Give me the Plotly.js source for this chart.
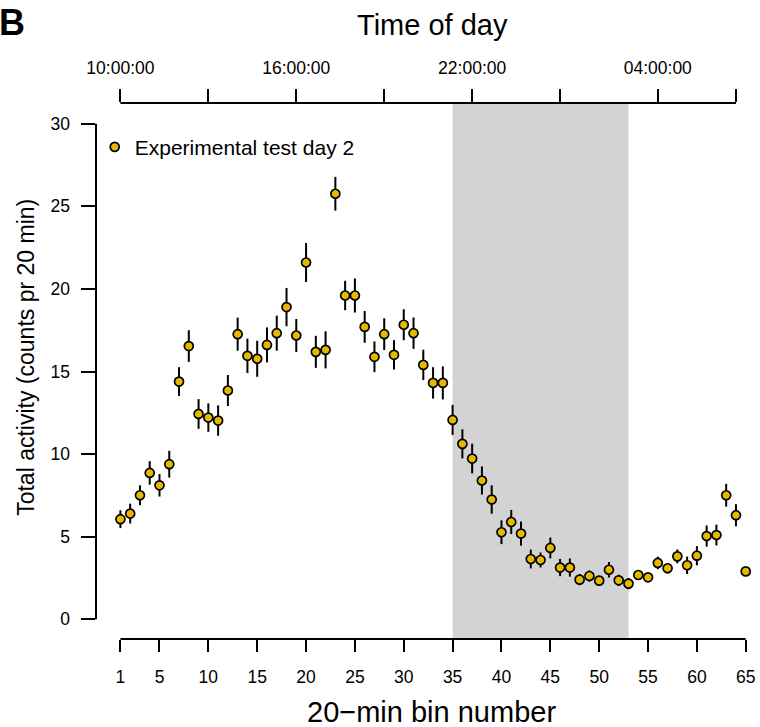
<!DOCTYPE html>
<html>
<head>
<meta charset="utf-8">
<script src="https://cdn.plot.ly/plotly-3.0.1.min.js"></script>
<style>html,body{margin:0;padding:0;background:#fff;}#chart{width:760px;height:727px;}</style>
</head>
<body>
<div id="chart"></div>
<script>
// ---- data ----
var bins = [];
for (var i = 1; i <= 65; i++) bins.push(i);
var activity = [6.06,6.40,7.51,8.86,8.11,9.39,14.39,16.54,12.43,12.21,
                12.03,13.85,17.26,15.95,15.77,16.61,17.32,18.90,17.18,21.60,
                16.19,16.31,25.76,19.60,19.60,17.70,15.89,17.26,16.01,17.83,
                17.32,15.40,14.31,14.31,12.07,10.62,9.73,8.40,7.25,5.27,
                5.89,5.19,3.65,3.59,4.32,3.13,3.13,2.40,2.62,2.34,
                3.00,2.36,2.16,2.68,2.54,3.41,3.09,3.81,3.27,3.85,
                5.04,5.10,7.51,6.30,2.90];
var activitySE = [0.54,0.60,0.60,0.71,0.68,0.81,0.87,0.96,0.90,0.86,
                  0.92,0.94,1.00,1.04,1.09,1.06,1.06,1.16,1.00,1.18,
                  0.97,1.12,1.02,0.89,1.03,0.96,0.93,0.96,0.89,0.94,
                  0.95,0.92,0.95,1.00,0.91,0.88,0.90,0.85,0.86,0.72,
                  0.73,0.73,0.57,0.45,0.63,0.52,0.55,0.34,0.34,0.30,
                  0.47,0.34,0.34,0.30,0.26,0.38,0.32,0.42,0.53,0.58,
                  0.64,0.63,0.69,0.67,0.15];
var binTicks = [1,5,10,15,20,25,30,35,40,45,50,55,60,65];
var timeTickBins = [1,10,19,28,37,46,56,64];
var timeTickLabels = ['10:00:00','','16:00:00','','22:00:00','','04:00:00',''];
var yTicks = [0,5,10,15,20,25,30];
var darkStart = 35, darkEnd = 53;
var seriesName = 'Experimental test day 2';

// ---- geometry ----
var W = 760, H = 727;
var L = 96.3, T = 103.3, B = 88, R = 0;
var PW = W - L - R, PH = H - T - B;
function px(x){ return (x - L) / PW; }
function py(y){ return 1 - (y - T) / PH; }
var xRange = [-1.498, 66.46];
var yRange = [-1.193, 31.254];
var FONT = 'Liberation Sans, Arial, Helvetica, sans-serif';

var trace = {
  x: bins, y: activity, type: 'scatter', mode: 'markers', name: seriesName,
  marker: {symbol: 'circle', size: 9, color: '#E7B800', line: {color: '#000', width: 1.7}},
  error_y: {type: 'data', array: activitySE, visible: true, color: '#000', thickness: 2, width: 0},
  hoverinfo: 'x+y'
};
// carrier trace so the top (time-of-day) axis is drawn; invisible
var timeAxisCarrier = {
  x: bins, y: activity, type: 'scatter', mode: 'markers', xaxis: 'x2', yaxis: 'y',
  marker: {opacity: 0, size: 1}, showlegend: false, hoverinfo: 'skip'
};

var layout = {
  width: W, height: H,
  margin: {l: L, r: R, t: T, b: B, pad: 0},
  paper_bgcolor: '#fff', plot_bgcolor: '#fff',
  font: {family: FONT, color: '#000', size: 17.5},
  showlegend: true,
  legend: {x: px(95), y: py(127), xanchor: 'left', yanchor: 'top',
           bgcolor: 'rgba(0,0,0,0)', borderwidth: 0,
           font: {family: FONT, size: 21, color: '#000'}},
  xaxis: {range: xRange, tickmode: 'array', tickvals: binTicks,
          ticks: 'outside', ticklen: 12, tickwidth: 2, tickcolor: '#000',
          showline: false, showgrid: false, zeroline: false,
          ticklabelstandoff: 10, tickfont: {size: 17.5}},
  xaxis2: {range: xRange, overlaying: 'x', side: 'top', anchor: 'y',
           tickmode: 'array', tickvals: timeTickBins, ticktext: timeTickLabels,
           ticks: 'outside', ticklen: 12.6, tickwidth: 2, tickcolor: '#000',
           showline: false, showgrid: false, zeroline: false,
           ticklabelstandoff: 8, tickfont: {size: 17.5}},
  yaxis: {range: yRange, tickmode: 'array', tickvals: yTicks,
          ticks: 'outside', ticklen: 13.6, tickwidth: 2, tickcolor: '#000',
          showline: false, showgrid: false, zeroline: false,
          ticklabelstandoff: 8, tickfont: {size: 17.5}},
  shapes: [
    {type: 'rect', layer: 'below', xref: 'x', yref: 'paper',
     x0: darkStart, x1: darkEnd, y0: 0, y1: 1,
     fillcolor: '#d3d3d3', line: {width: 0}},
    {type: 'line', xref: 'x', yref: 'paper', x0: binTicks[0], x1: binTicks[binTicks.length-1],
     y0: 0, y1: 0, line: {color: '#000', width: 2}},
    {type: 'line', xref: 'x', yref: 'paper', x0: timeTickBins[0], x1: timeTickBins[timeTickBins.length-1],
     y0: 1, y1: 1, line: {color: '#000', width: 2}},
    {type: 'line', xref: 'paper', yref: 'y', x0: 0, x1: 0,
     y0: yTicks[0], y1: yTicks[yTicks.length-1], line: {color: '#000', width: 2}}
  ],
  annotations: [
    {text: '<b>B</b>', xref: 'paper', yref: 'paper', x: px(-3), y: py(22.5),
     xanchor: 'left', yanchor: 'middle', showarrow: false,
     font: {family: FONT, size: 36, color: '#000'}},
    {text: 'Time of day', xref: 'paper', yref: 'paper', x: px(433), y: py(25),
     xanchor: 'center', yanchor: 'middle', showarrow: false,
     font: {family: FONT, size: 29, color: '#000'}},
    {text: '20\u2212min bin number', xref: 'paper', yref: 'paper', x: px(432), y: py(711.5),
     xanchor: 'center', yanchor: 'middle', showarrow: false,
     font: {family: FONT, size: 29, color: '#000'}},
    {text: 'Total activity (counts pr 20 min)', xref: 'paper', yref: 'paper', x: px(26.3), y: py(357),
     xanchor: 'center', yanchor: 'middle', textangle: -90, showarrow: false,
     font: {family: FONT, size: 23, color: '#000'}}
  ]
};

Plotly.newPlot('chart', [trace, timeAxisCarrier], layout, {displayModeBar: false, staticPlot: true});
</script>
</body>
</html>
